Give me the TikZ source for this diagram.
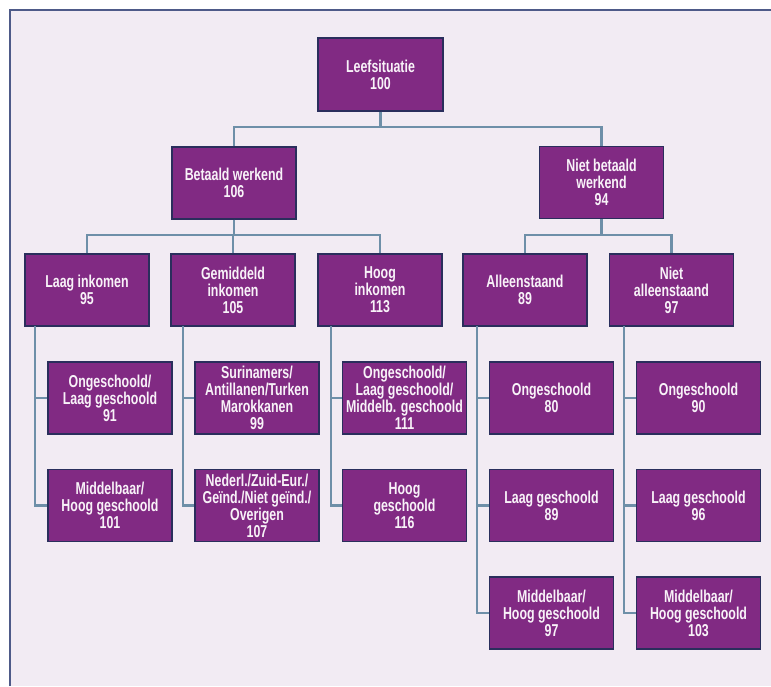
\documentclass[tikz,border=0pt]{standalone}
\usepackage{fontspec}
\setmainfont{Liberation Sans}[FakeStretch=0.72]
\usetikzlibrary{calc}
\definecolor{bg}{HTML}{F2EBF3}
\definecolor{frame}{HTML}{4E5A88}
\definecolor{boxfill}{HTML}{812A83}
\definecolor{boxline}{HTML}{2A2E5C}
\definecolor{conn}{HTML}{6E8FA8}
\definecolor{txt}{HTML}{F8F2F8}
\tikzset{
  box/.style={draw=boxline, line width=1.2pt, fill=boxfill, minimum width=124pt,
    minimum height=72pt, inner sep=0pt, align=center, text=txt,
    font=\bfseries\fontsize{17.2}{17}\selectfont},
  link/.style={draw=conn, line width=2.4pt},
}
\begin{document}
\begin{tikzpicture}[x=1pt,y=-1pt]
\useasboundingbox (0,0) rectangle (771,686);
\fill[white] (0,0) rectangle (771,686);
\fill[bg] (9.5,9.5) rectangle (771,686);
\draw[frame, line width=2pt] (9.5,686) -- (9.5,9.5) -- (771,9.5);

% level 0 and 1
\node[box, minimum width=125pt, minimum height=73pt] (L0) at (380.5,74.5) {Leefsituatie\\100};
\node[box] (B1) at (234,183) {Betaald werkend\\106};
\node[box] (N1) at (601.5,182.5) {Niet betaald\\werkend\\94};

% level 2
\node[box] (LI) at (87,290) {Laag inkomen\\95};
\node[box] (GI) at (233,290) {Gemiddeld\\inkomen\\105};
\node[box] (HI) at (380,290) {Hoog\\inkomen\\113};
\node[box] (AL) at (525,290) {Alleenstaand\\89};
\node[box] (NA) at (671.5,290) {Niet\\alleenstaand\\97};

% level 3
\node[box] (C1a) at (110,398) {Ongeschoold/\\Laag geschoold\\91};
\node[box] (C1b) at (110,505.5) {Middelbaar/\\Hoog geschoold\\101};
\node[box] (C2a) at (257,398) {Surinamers/\\Antillanen/Turken\\Marokkanen\\99};
\node[box] (C2b) at (257,505.5) {Nederl./Zuid-Eur./\\Geïnd./Niet geïnd./\\Overigen\\107};
\node[box] (C3a) at (404.5,398) {Ongeschoold/\\Laag geschoold/\\Middelb. geschoold\\111};
\node[box] (C3b) at (404.5,505.5) {Hoog\\geschoold\\116};
\node[box] (C4a) at (551.5,398) {Ongeschoold\\80};
\node[box] (C4b) at (551.5,505.5) {Laag geschoold\\89};
\node[box] (C4c) at (551.5,613) {Middelbaar/\\Hoog geschoold\\97};
\node[box] (C5a) at (698.5,398) {Ongeschoold\\90};
\node[box] (C5b) at (698.5,505.5) {Laag geschoold\\96};
\node[box] (C5c) at (698.5,613) {Middelbaar/\\Hoog geschoold\\103};

% junctions
\coordinate (j0) at (380.5,127);
\coordinate (j1) at (234,235);
\coordinate (j2) at (601.5,235);
\coordinate (t1) at (35,326);
\coordinate (t2) at (183,326);
\coordinate (t3) at (331,326);
\coordinate (t4) at (477,326);
\coordinate (t5) at (624,326);

% connectors
\draw[link] (L0.south) -- (j0);
\draw[link] (B1.north) |- (j0) -| (N1.north);
\draw[link] (B1.south) -- (j1);
\draw[link] (LI.north) |- (j1) -| (HI.north);
\draw[link] (GI.north) -- (GI.north |- j1);
\draw[link] (N1.south) -- (j2);
\draw[link] (AL.north) |- (j2) -| (NA.north);

\draw[link] (t1) |- (C1b.west);
\draw[link] (C1a.west) -- (C1a.west -| t1);
\draw[link] (t2) |- (C2b.west);
\draw[link] (C2a.west) -- (C2a.west -| t2);
\draw[link] (t3) |- (C3b.west);
\draw[link] (C3a.west) -- (C3a.west -| t3);
\draw[link] (t4) |- (C4c.west);
\draw[link] (C4a.west) -- (C4a.west -| t4);
\draw[link] (C4b.west) -- (C4b.west -| t4);
\draw[link] (t5) |- (C5c.west);
\draw[link] (C5a.west) -- (C5a.west -| t5);
\draw[link] (C5b.west) -- (C5b.west -| t5);
\end{tikzpicture}
\end{document}
